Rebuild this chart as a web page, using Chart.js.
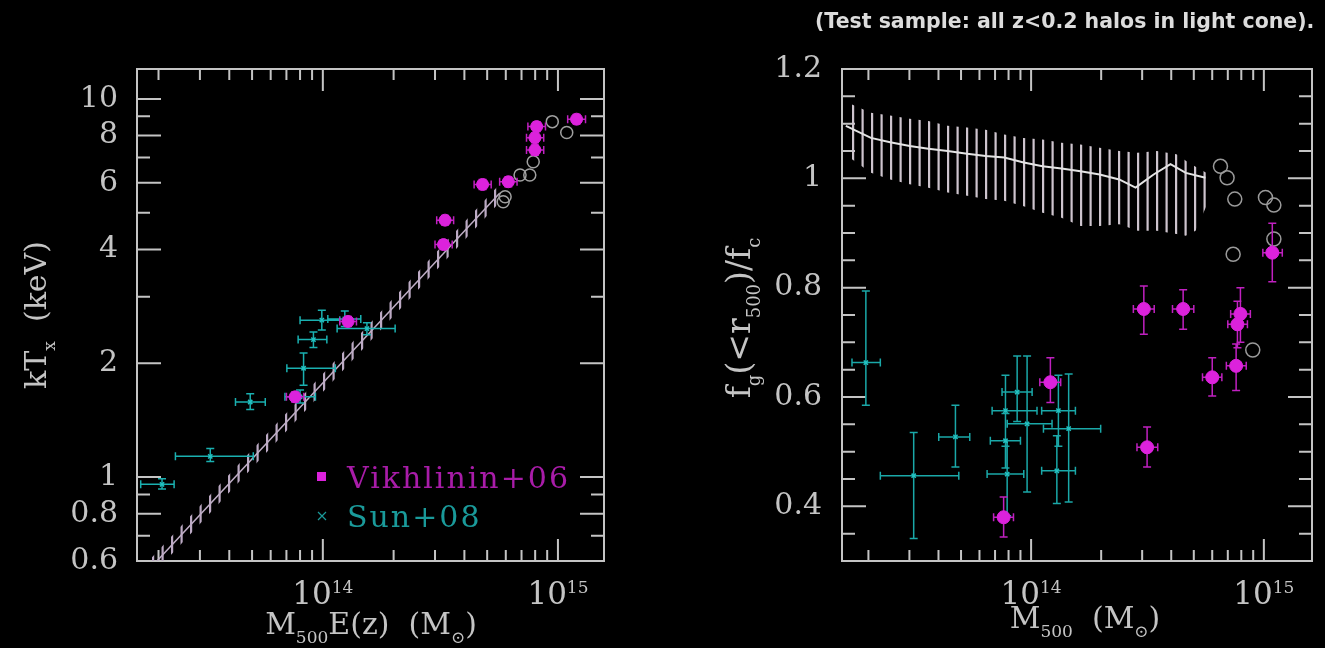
<!DOCTYPE html>
<html>
<head>
<meta charset="utf-8">
<title>kT and gas fraction vs M500</title>
<script src="https://cdn.jsdelivr.net/npm/chart.js@4.4.1/dist/chart.umd.min.js"></script>
<style>
    html, body { margin: 0; padding: 0; background: #000; }
    body { width: 1325px; height: 648px; position: relative; overflow: hidden; }
    .panel { position: absolute; top: 0; height: 648px; }
    .panel canvas { filter: blur(0.5px); }
    #leftPanel { left: 0; width: 662px; }
    #rightPanel { left: 662px; width: 663px; }
</style>
</head>
<body>
<div class="panel" id="leftPanel"><canvas id="ktChart"></canvas></div>
<div class="panel" id="rightPanel"><canvas id="fgChart"></canvas></div>
<script>
// ---- axis ticks (both panels share the mass axis) ----
const massMajor = [1e14, 1e15];
const massExp = ['14', '15'];
const massMinor = [2e13, 3e13, 4e13, 5e13, 6e13, 7e13, 8e13, 9e13,
                   2e14, 3e14, 4e14, 5e14, 6e14, 7e14, 8e14, 9e14];
const ktTicks = [0.6, 0.8, 1, 2, 4, 6, 8, 10];
const ktMinor = [0.7, 0.9, 3, 5, 7, 9];
const fgTicks = [0.4, 0.6, 0.8, 1, 1.2];
const fgMinor = [0.35, 0.45, 0.5, 0.55, 0.65, 0.7, 0.75, 0.85, 0.9, 0.95, 1.05, 1.1, 1.15];

// ---- left panel: kT_x vs M500 E(z) ----
// simulated relation (hatched band)
const relM = [1.8e13, 5.66e14];
const relT = [0.565, 5.64];
const relTlo = [0.535, 5.34];
const relThi = [0.597, 5.96];

// simulated clusters (open circles)
const simM = [5.85e14, 5.96e14, 6.9e14, 7.59e14, 7.85e14, 9.46e14, 1.09e15];
const simT = [5.35, 5.51, 6.29, 6.29, 6.82, 8.71, 8.15];

// Vikhlinin+06
const vikM = [7.62e13, 1.28e14, 3.26e14, 3.31e14, 4.78e14, 6.15e14, 7.98e14, 7.98e14, 8.12e14, 1.2e15];
const vikT = [1.63, 2.58, 4.12, 4.78, 5.94, 6.04, 7.33, 7.90, 8.45, 8.84];
const vikMlo = [7.0e13, 1.18e14, 3.0e14, 3.05e14, 4.4e14, 5.65e14, 7.35e14, 7.35e14, 7.45e14, 1.1e15];
const vikMhi = [8.3e13, 1.39e14, 3.55e14, 3.6e14, 5.2e14, 6.7e14, 8.7e14, 8.7e14, 8.85e14, 1.31e15];
const vikTlo = [1.58, 2.5, 4.0, 4.64, 5.76, 5.86, 7.1, 7.66, 8.2, 8.58];
const vikThi = [1.68, 2.66, 4.24, 4.92, 6.12, 6.22, 7.55, 8.14, 8.7, 9.1];

// Sun+08
const sunM = [2.07e13, 3.32e13, 4.91e13, 8.28e13, 8.0e13, 9.12e13, 9.9e13, 1.54e14, 1.24e14];
const sunT = [0.957, 1.135, 1.58, 1.94, 1.63, 2.31, 2.60, 2.47, 2.62];
const sunMlo = [1.68e13, 2.36e13, 4.25e13, 7.03e13, 6.9e13, 7.85e13, 8.0e13, 1.15e14, 1.05e14];
const sunMhi = [2.33e13, 5.06e13, 5.69e13, 1.13e14, 9.3e13, 1.04e14, 1.18e14, 2.03e14, 1.45e14];
const sunTlo = [0.93, 1.10, 1.51, 1.75, 1.57, 2.20, 2.45, 2.38, 2.50];
const sunThi = [0.99, 1.19, 1.66, 2.13, 1.70, 2.42, 2.76, 2.56, 2.75];

// ---- right panel: f_g(<r500)/f_c vs M500 ----
// simulation scatter band and median
const bandM = [1.70e13, 2.05e13, 2.48e13, 3.01e13, 3.62e13, 4.38e13, 5.31e13, 6.38e13, 7.67e13, 9.29e13,
               1.12e14, 1.35e14, 1.63e14, 1.97e14, 2.39e14, 2.87e14, 3.47e14, 4.21e14, 4.62e14, 5.09e14, 5.66e14];
const bandHi = [1.135, 1.120, 1.115, 1.109, 1.105, 1.096, 1.093, 1.089, 1.080, 1.074,
                1.071, 1.065, 1.062, 1.056, 1.050, 1.047, 1.050, 1.044, 1.032, 1.021, 1.010];
const bandLo = [1.035, 1.010, 0.998, 0.989, 0.983, 0.974, 0.968, 0.962, 0.959, 0.949,
                0.937, 0.928, 0.913, 0.913, 0.916, 0.904, 0.904, 0.898, 0.895, 0.904, 0.949];
const medM = [1.6e13, 2.05e13, 2.48e13, 3.01e13, 3.62e13, 4.38e13, 5.31e13, 6.38e13, 7.67e13, 9.29e13,
              1.12e14, 1.35e14, 1.63e14, 1.97e14, 2.39e14, 2.81e14, 3.36e14, 3.97e14, 4.62e14, 5.61e14];
const medF = [1.096, 1.074, 1.066, 1.059, 1.054, 1.050, 1.045, 1.041, 1.038, 1.029,
              1.022, 1.018, 1.013, 1.007, 0.998, 0.983, 1.007, 1.026, 1.010, 1.001];

const fgSimM = [6.51e14, 6.95e14, 7.50e14, 1.016e15, 1.104e15, 1.104e15, 7.38e14, 8.96e14];
const fgSimF = [1.022, 1.001, 0.962, 0.965, 0.951, 0.889, 0.861, 0.686];

const fgVikM = [7.62e13, 1.21e14, 3.05e14, 3.15e14, 4.50e14, 6.0e14, 7.93e14, 7.7e14, 7.6e14, 1.087e15];
const fgVikF = [0.380, 0.627, 0.761, 0.508, 0.761, 0.636, 0.752, 0.733, 0.657, 0.864];
const fgVikMlo = [6.9e13, 1.09e14, 2.75e14, 2.85e14, 4.05e14, 5.45e14, 7.2e14, 7.0e14, 6.9e14, 9.9e14];
const fgVikMhi = [8.4e13, 1.34e14, 3.38e14, 3.5e14, 5.0e14, 6.6e14, 8.75e14, 8.5e14, 8.4e14, 1.2e15];
const fgVikFlo = [0.344, 0.59, 0.715, 0.472, 0.724, 0.602, 0.70, 0.69, 0.612, 0.811];
const fgVikFhi = [0.417, 0.672, 0.803, 0.545, 0.796, 0.672, 0.80, 0.775, 0.697, 0.918];

const fgSunM = [1.95e13, 3.13e13, 4.73e13, 8.71e13, 7.76e13, 9.61e13, 7.76e13, 7.89e13, 1.31e14, 1.45e14, 1.29e14];
const fgSunF = [0.663, 0.456, 0.527, 0.609, 0.575, 0.551, 0.520, 0.459, 0.575, 0.542, 0.465];
const fgSunMlo = [1.70e13, 2.25e13, 4.01e13, 7.5e13, 6.8e13, 7.9e13, 6.68e13, 6.47e13, 1.11e14, 1.13e14, 1.11e14];
const fgSunMhi = [2.25e13, 4.89e13, 5.45e13, 1.01e14, 1.06e14, 1.23e14, 9.0e13, 9.3e13, 1.55e14, 1.99e14, 1.55e14];
const fgSunFlo = [0.585, 0.341, 0.472, 0.555, 0.51, 0.426, 0.47, 0.383, 0.51, 0.408, 0.405];
const fgSunFhi = [0.794, 0.535, 0.585, 0.675, 0.64, 0.675, 0.57, 0.52, 0.64, 0.642, 0.529];

// ---- styling ----
const SERIF = '"DejaVu Serif", "Liberation Serif", serif';
const GREY = '#c4c4c4';
const MAGENTA = '#dc22dc';
const CYAN = '#22c2c2';
Chart.defaults.font.family = SERIF;

const pts = (xs, ys) => xs.map((x, i) => ({ x: x, y: ys[i] }));
const pairs = (lo, hi) => lo.map((v, i) => [v, hi[i]]);

// vertical-stripe fill for the hatched bands
function stripes(canvasId, color) {
    const tile = document.createElement('canvas');
    tile.width = 19;
    tile.height = 8;
    const g = tile.getContext('2d');
    g.fillStyle = color;
    g.fillRect(0, 0, 2.2, 8);
    g.fillRect(9.5, 0, 2.2, 8);
    return document.getElementById(canvasId).getContext('2d').createPattern(tile, 'repeat');
}

// text with sub/superscripts: parts = [[text, 0 normal | 1 sub | 2 sup], ...]
function richText(ctx, parts, x, y, size, align) {
    const fontFor = k => (k ? Math.round(size * 0.55) : size) + 'px ' + SERIF;
    let w = 0;
    parts.forEach(([t, k]) => { ctx.font = fontFor(k); w += ctx.measureText(t).width; });
    let cx = align === 'center' ? x - w / 2 : x;
    parts.forEach(([t, k]) => {
        ctx.font = fontFor(k);
        const dy = k === 1 ? size * 0.3 : (k === 2 ? -size * 0.34 : 0);
        ctx.fillText(t, cx, y + dy);
        cx += ctx.measureText(t).width;
    });
}

// box with inward ticks on all four sides
function framePlugin(xMajor, xMinor, yMajor, yMinor) {
    return {
        id: 'frame',
        beforeDatasetsDraw(chart) {
            const ctx = chart.ctx, a = chart.chartArea;
            const xs = chart.scales.x, ys = chart.scales.y;
            ctx.save();
            ctx.strokeStyle = GREY;
            ctx.lineWidth = 2;
            ctx.strokeRect(a.left, a.top, a.right - a.left, a.bottom - a.top);
            ctx.beginPath();
            const xTick = (v, len) => {
                const px = xs.getPixelForValue(v);
                ctx.moveTo(px, a.bottom); ctx.lineTo(px, a.bottom - len);
                ctx.moveTo(px, a.top); ctx.lineTo(px, a.top + len);
            };
            const yTick = (v, len) => {
                const py = ys.getPixelForValue(v);
                ctx.moveTo(a.left, py); ctx.lineTo(a.left + len, py);
                ctx.moveTo(a.right, py); ctx.lineTo(a.right - len, py);
            };
            xMajor.forEach(v => xTick(v, 22));
            xMinor.forEach(v => xTick(v, 11));
            yMajor.forEach(v => yTick(v, 24));
            yMinor.forEach(v => yTick(v, 13));
            ctx.stroke();
            ctx.restore();
        }
    };
}

// error bars with caps, drawn just under each dataset's markers
const errorBars = {
    id: 'errorBars',
    beforeDatasetDraw(chart, args) {
        const ds = chart.data.datasets[args.index];
        if (!ds.errX) return;
        const ctx = chart.ctx, a = chart.chartArea;
        const xs = chart.scales.x, ys = chart.scales.y;
        const cap = 4;
        ctx.save();
        ctx.beginPath();
        ctx.rect(a.left, a.top, a.right - a.left, a.bottom - a.top);
        ctx.clip();
        ctx.strokeStyle = ds.errColor;
        ctx.lineWidth = 1.5;
        ctx.beginPath();
        ds.data.forEach((p, i) => {
            const px = xs.getPixelForValue(p.x), py = ys.getPixelForValue(p.y);
            const xl = xs.getPixelForValue(ds.errX[i][0]), xh = xs.getPixelForValue(ds.errX[i][1]);
            const yl = ys.getPixelForValue(ds.errY[i][0]), yh = ys.getPixelForValue(ds.errY[i][1]);
            ctx.moveTo(xl, py); ctx.lineTo(xh, py);
            ctx.moveTo(xl, py - cap); ctx.lineTo(xl, py + cap);
            ctx.moveTo(xh, py - cap); ctx.lineTo(xh, py + cap);
            ctx.moveTo(px, yl); ctx.lineTo(px, yh);
            ctx.moveTo(px - cap, yl); ctx.lineTo(px + cap, yl);
            ctx.moveTo(px - cap, yh); ctx.lineTo(px + cap, yh);
        });
        ctx.stroke();
        ctx.restore();
    }
};

const tickFont = { family: SERIF, size: 30 };

// ================= left panel =================
const ktCanvas = document.getElementById('ktChart');
new Chart(ktCanvas, {
    type: 'scatter',
    data: {
        datasets: [
            {
                label: 'Vikhlinin+06',
                data: pts(vikM, vikT),
                pointStyle: 'circle', pointRadius: 6,
                backgroundColor: MAGENTA, borderColor: MAGENTA,
                errX: pairs(vikMlo, vikMhi), errY: pairs(vikTlo, vikThi), errColor: '#c020c0'
            },
            {
                label: 'Sun+08',
                data: pts(sunM, sunT),
                pointStyle: 'crossRot', pointRadius: 3, borderWidth: 1.5,
                borderColor: CYAN, backgroundColor: CYAN,
                errX: pairs(sunMlo, sunMhi), errY: pairs(sunTlo, sunThi), errColor: '#1ab0b0'
            },
            {
                label: 'simulated',
                data: pts(simM, simT),
                pointStyle: 'circle', pointRadius: 6, borderWidth: 1.5,
                borderColor: '#a0a0a0', backgroundColor: 'rgba(0,0,0,0)'
            },
            {
                type: 'line', label: 'relation',
                data: pts(relM, relT),
                borderColor: '#bfaec6', borderWidth: 1.5, pointRadius: 0, fill: false
            },
            {
                type: 'line', label: 'relation upper',
                data: pts(relM, relThi),
                borderWidth: 0, borderColor: 'rgba(0,0,0,0)', pointRadius: 0,
                fill: '+1', backgroundColor: stripes('ktChart', '#bcaac4')
            },
            {
                type: 'line', label: 'relation lower',
                data: pts(relM, relTlo),
                borderWidth: 0, borderColor: 'rgba(0,0,0,0)', pointRadius: 0, fill: false
            }
        ]
    },
    options: {
        responsive: true,
        maintainAspectRatio: false,
        animation: false,
        layout: { padding: { top: 69, right: 58, left: 0, bottom: 0 } },
        plugins: { legend: { display: false }, tooltip: { enabled: false } },
        scales: {
            x: {
                type: 'logarithmic', min: 1.62e13, max: 1.57e15,
                grid: { display: false }, border: { display: false },
                ticks: { display: false },
                afterFit: s => { s.height = 87; }
            },
            y: {
                type: 'logarithmic', min: 0.6, max: 12,
                grid: { display: false, drawTicks: false }, border: { display: false },
                afterBuildTicks: s => { s.ticks = ktTicks.map(v => ({ value: v })); },
                ticks: {
                    autoSkip: false, padding: 19, color: GREY, font: tickFont,
                    callback: v => String(v)
                },
                afterFit: s => { s.width = 137; }
            }
        }
    },
    plugins: [
        framePlugin(massMajor, massMinor, ktTicks, ktMinor),
        errorBars,
        {
            id: 'ktText',
            afterDraw(chart) {
                const ctx = chart.ctx, xs = chart.scales.x;
                ctx.save();
                ctx.textAlign = 'left';
                ctx.textBaseline = 'alphabetic';
                ctx.fillStyle = GREY;
                massMajor.forEach((v, i) =>
                    richText(ctx, [['10', 0], [massExp[i], 2]], xs.getPixelForValue(v), 604, 31, 'center'));
                richText(ctx, [['M', 0], ['500', 1], ['E(z)  (M', 0], ['\u2299', 1], [')', 0]], 371, 634, 30, 'center');

                // legend
                ctx.letterSpacing = '2px';
                ctx.font = '30px ' + SERIF;
                ctx.fillStyle = MAGENTA;
                ctx.fillRect(317, 472, 9, 9);
                ctx.fillStyle = '#a81ca8';
                ctx.fillText('Vikhlinin+06', 347, 488);
                ctx.strokeStyle = '#1a9a9a';
                ctx.lineWidth = 1.2;
                ctx.beginPath();
                ctx.moveTo(318, 512); ctx.lineTo(326, 520);
                ctx.moveTo(326, 512); ctx.lineTo(318, 520);
                ctx.stroke();
                ctx.fillStyle = '#1a9a9a';
                ctx.fillText('Sun+08', 347, 527);
                ctx.letterSpacing = '0px';

                ctx.fillStyle = GREY;
                ctx.translate(35, 315);
                ctx.rotate(-Math.PI / 2);
                richText(ctx, [['kT', 0], ['x', 1], ['  (keV)', 0]], 0, 11, 30, 'center');
                ctx.restore();
            }
        }
    ]
});

// ================= right panel =================
const fgCanvas = document.getElementById('fgChart');
new Chart(fgCanvas, {
    type: 'scatter',
    data: {
        datasets: [
            {
                label: 'Vikhlinin+06',
                data: pts(fgVikM, fgVikF),
                pointStyle: 'circle', pointRadius: 6.5,
                backgroundColor: MAGENTA, borderColor: MAGENTA,
                errX: pairs(fgVikMlo, fgVikMhi), errY: pairs(fgVikFlo, fgVikFhi), errColor: '#c020c0'
            },
            {
                label: 'Sun+08',
                data: pts(fgSunM, fgSunF),
                pointStyle: 'crossRot', pointRadius: 3, borderWidth: 1.5,
                borderColor: CYAN, backgroundColor: CYAN,
                errX: pairs(fgSunMlo, fgSunMhi), errY: pairs(fgSunFlo, fgSunFhi), errColor: '#1aa8a8'
            },
            {
                label: 'simulated',
                data: pts(fgSimM, fgSimF),
                pointStyle: 'circle', pointRadius: 7, borderWidth: 1.5,
                borderColor: '#9a9a9a', backgroundColor: 'rgba(0,0,0,0)'
            },
            {
                type: 'line', label: 'median',
                data: pts(medM, medF),
                borderColor: '#e4e4e4', borderWidth: 2, pointRadius: 0, fill: false
            },
            {
                type: 'line', label: 'scatter upper',
                data: pts(bandM, bandHi),
                borderWidth: 0, borderColor: 'rgba(0,0,0,0)', pointRadius: 0,
                fill: '+1', backgroundColor: stripes('fgChart', '#cdc4cd')
            },
            {
                type: 'line', label: 'scatter lower',
                data: pts(bandM, bandLo),
                borderWidth: 0, borderColor: 'rgba(0,0,0,0)', pointRadius: 0, fill: false
            }
        ]
    },
    options: {
        responsive: true,
        maintainAspectRatio: false,
        animation: false,
        layout: { padding: { top: 69, right: 13, left: 0, bottom: 0 } },
        plugins: { legend: { display: false }, tooltip: { enabled: false } },
        scales: {
            x: {
                type: 'logarithmic', min: 1.54e13, max: 1.61e15,
                grid: { display: false }, border: { display: false },
                ticks: { display: false },
                afterFit: s => { s.height = 87; }
            },
            y: {
                type: 'linear', min: 0.3, max: 1.2,
                grid: { display: false, drawTicks: false }, border: { display: false },
                afterBuildTicks: s => { s.ticks = fgTicks.map(v => ({ value: v })); },
                ticks: {
                    autoSkip: false, padding: 20, color: GREY, font: tickFont,
                    callback: v => (v === 1 ? '1' : v.toFixed(1))
                },
                afterFit: s => { s.width = 180; }
            }
        }
    },
    plugins: [
        framePlugin(massMajor, massMinor, fgTicks, fgMinor),
        errorBars,
        {
            id: 'fgText',
            afterDraw(chart) {
                const ctx = chart.ctx, xs = chart.scales.x;
                ctx.save();
                ctx.textAlign = 'left';
                ctx.textBaseline = 'alphabetic';
                ctx.fillStyle = GREY;
                massMajor.forEach((v, i) =>
                    richText(ctx, [['10', 0], [massExp[i], 2]], xs.getPixelForValue(v), 604, 31, 'center'));
                richText(ctx, [['M', 0], ['500', 1], ['  (M', 0], ['\u2299', 1], [')', 0]], 423, 628, 30, 'center');

                ctx.font = 'bold 20.5px "DejaVu Sans", sans-serif';
                ctx.fillStyle = '#dcdcdc';
                ctx.fillText('(Test sample: all z<0.2 halos in light cone).', 153, 28);

                ctx.fillStyle = GREY;
                ctx.translate(78, 318);
                ctx.rotate(-Math.PI / 2);
                richText(ctx, [['f', 0], ['g', 1], ['(<r', 0], ['500', 1], [')/f', 0], ['c', 1]], 0, 10, 33, 'center');
                ctx.restore();
            }
        }
    ]
});
</script>
</body>
</html>
